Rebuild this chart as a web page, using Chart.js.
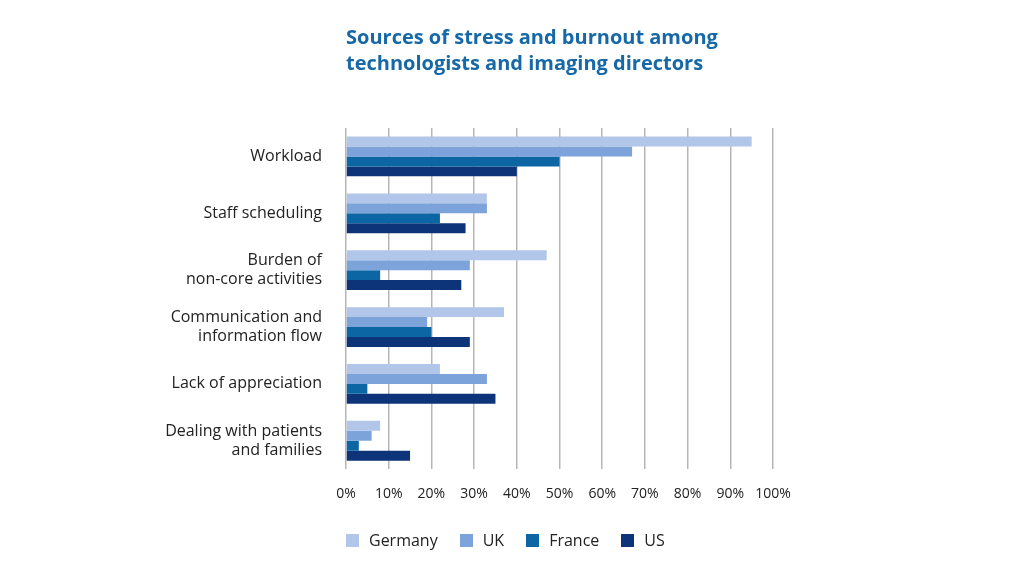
<!DOCTYPE html>
<html><head><meta charset="utf-8">
<script src="https://cdn.jsdelivr.net/npm/chart.js@4"></script>
<style>
html,body{margin:0;padding:0;background:#fff;}
#wrap{position:relative;width:1024px;height:576px;}
#title{position:absolute;left:346px;top:24px;font-family:"Open Sans",sans-serif;font-weight:700;font-size:20px;line-height:26px;color:#1668a6;}
#legend{position:absolute;left:346px;top:529px;font-family:"Open Sans",sans-serif;font-size:16px;color:#222;display:flex;}
#legend span.item{display:flex;align-items:center;margin-right:22px;}
#legend i{display:inline-block;width:13px;height:13px;margin-right:10px;}
</style></head>
<body><div id="wrap"><div id="title">Sources of stress and burnout among<br>technologists and imaging directors</div><canvas id="c" width="1024" height="576"></canvas><div id="legend"></div></div>
<script>
const categories=[["Workload"],["Staff scheduling"],["Burden of","non-core activities"],["Communication and","information flow"],["Lack of appreciation"],["Dealing with patients","and families"]];
const seriesNames=["Germany","UK","France","US"];
const germany=[95,33,47,37,22,8];
const uk=[67,33,29,19,33,6];
const france=[50,22,8,20,5,3];
const us=[40,28,27,29,35,15];
const tickLabels=["0%","10%","20%","30%","40%","50%","60%","70%","80%","90%","100%"];
const colors=['#b1c6e8','#7ca4da','#0b66a3','#0d3479'];
const font="'Open Sans', sans-serif";
const series=[germany,uk,france,us];
new Chart(document.getElementById('c'),{
 type:'bar',
 data:{labels:categories,datasets:series.map((d,i)=>({label:seriesNames[i],data:d,backgroundColor:colors[i]}))},
 options:{indexAxis:'y',responsive:false,animation:false,
  layout:{padding:{top:128,right:251,left:0,bottom:58}},
  datasets:{bar:{categoryPercentage:0.7,barPercentage:1}},
  plugins:{legend:{display:false},tooltip:{enabled:false}},
  scales:{
   x:{min:0,max:100,border:{display:false},grid:{color:'#b5b5b5',lineWidth:1.5,drawTicks:false},
      ticks:{stepSize:10,padding:16,color:'#222',font:{family:font,size:14},callback:(v,i)=>tickLabels[i]}},
   y:{border:{display:false},grid:{display:false},
      afterFit:s=>{s.width=346;},
      ticks:{padding:16,color:'#222',font:{family:font,size:16},lineHeight:1.3}}
  }}
});
document.getElementById('legend').innerHTML=seriesNames.map((n,i)=>`<span class="item"><i style="background:${colors[i]}"></i>${n}</span>`).join('');
</script></body></html>
